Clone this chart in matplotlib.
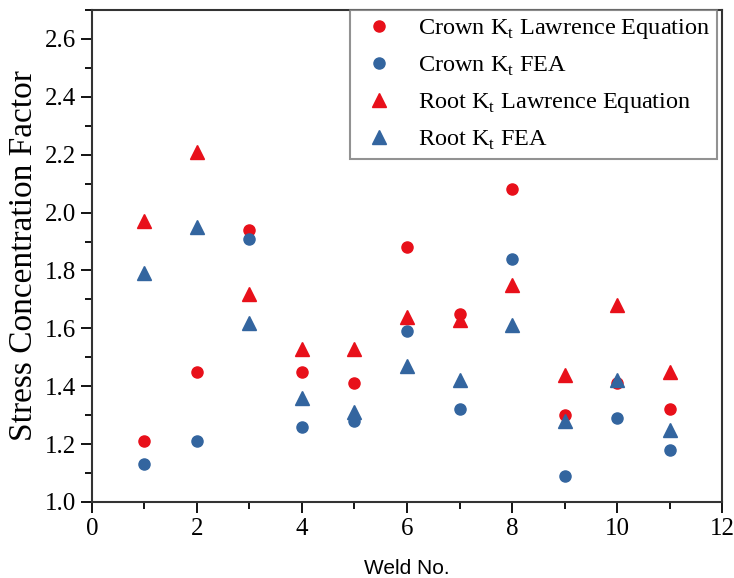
import matplotlib
matplotlib.use('Agg')
import matplotlib.pyplot as plt
import numpy as np
from matplotlib.ticker import MultipleLocator

plt.rcParams['font.family'] = 'Liberation Serif'
plt.rcParams['mathtext.fontset'] = 'custom'
plt.rcParams['mathtext.rm'] = 'Liberation Serif'

weld = [1, 2, 3, 4, 5, 6, 7, 8, 9, 10, 11]
crown_law = [1.21, 1.45, 1.94, 1.45, 1.41, 1.88, 1.65, 2.08, 1.30, 1.41, 1.32]
crown_fea = [1.13, 1.21, 1.91, 1.26, 1.28, 1.59, 1.32, 1.84, 1.09, 1.29, 1.18]
root_law = [1.97, 2.21, 1.72, 1.53, 1.53, 1.64, 1.63, 1.75, 1.44, 1.68, 1.45]
root_fea = [1.79, 1.95, 1.62, 1.36, 1.31, 1.47, 1.42, 1.61, 1.28, 1.42, 1.25]

red = '#e8101a'
blue = '#33659f'

fig = plt.figure(figsize=(7.34, 5.78), dpi=100)
ax = fig.add_axes([0.1253, 0.1315, 0.8584, 0.8512])

ax.plot(weld, crown_law, 'o', color=red, ms=8, ls='none', label=r'Crown K$_\mathregular{t}$ Lawrence Equation')
ax.plot(weld, crown_fea, 'o', color=blue, ms=8, ls='none', label=r'Crown K$_\mathregular{t}$ FEA')
ax.plot(weld, root_law, '^', color=red, ms=9.5, ls='none', label=r'Root K$_\mathregular{t}$ Lawrence Equation')
ax.plot(weld, root_fea, '^', color=blue, ms=9.5, ls='none', label=r'Root K$_\mathregular{t}$ FEA')

ax.set_xlim(0, 12)
ax.set_ylim(1.0, 2.7)
ax.xaxis.set_major_locator(MultipleLocator(2))
ax.xaxis.set_minor_locator(MultipleLocator(1))
ax.yaxis.set_minor_locator(MultipleLocator(0.1))
ax.set_yticks(np.arange(1.0, 2.61, 0.2))
ax.yaxis.set_major_formatter(matplotlib.ticker.FormatStrFormatter('%.1f'))
ax.tick_params(which='major', direction='out', length=8, width=1.3, labelsize=18, top=False, right=False)
ax.tick_params(which='minor', direction='out', length=5, width=1.3, top=False, right=False)
for s in ax.spines.values():
    s.set_linewidth(1.5)
    s.set_color('#333333')

ax.set_ylabel('Stress Concentration Factor', fontsize=24, labelpad=4)
ax.set_xlabel('Weld No.', fontsize=15, family='Liberation Sans', labelpad=14)

leg = ax.legend(loc='upper right', bbox_to_anchor=(0.992, 1.0), borderaxespad=0,
                fontsize=17.5, frameon=True, fancybox=False, edgecolor='#777777',
                handletextpad=0.7, labelspacing=0.55, borderpad=0.3, handlelength=1.8)
leg.get_frame().set_linewidth(1.5)

fig.savefig('out.png', dpi=100)
